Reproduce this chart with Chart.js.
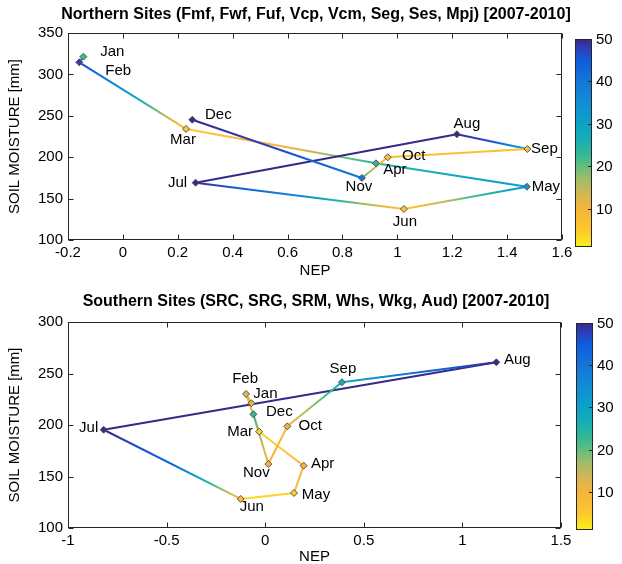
<!DOCTYPE html>
<html lang="en">
<head>
<meta charset="UTF-8">
<title>Soil moisture vs NEP</title>
<script src="https://cdn.jsdelivr.net/npm/chart.js@4.4.0/dist/chart.umd.min.js"></script>
<style>
  html, body { margin: 0; padding: 0; background: #fff; }
  #wrap { position: relative; width: 622px; height: 564px; }
  .panel { position: absolute; left: 0; width: 622px; }
</style>
</head>
<body>
<div id="wrap">
  <div class="panel" style="top:0"><canvas id="north" width="622" height="290"></canvas></div>
  <div class="panel" style="top:282px"><canvas id="south" width="622" height="282"></canvas></div>
</div>
<script>
// ---- data ----
const months = ['Jan', 'Feb', 'Mar', 'Apr', 'May', 'Jun', 'Jul', 'Aug', 'Sep', 'Oct', 'Nov', 'Dec'];

const northNEP = [-0.144, -0.159, 0.230, 0.922, 1.472, 1.024, 0.265, 1.217, 1.474, 0.965, 0.871, 0.253];
const northSM = [321.4, 314.6, 234.1, 192.6, 164.4, 137.4, 169.2, 227.7, 209.9, 199.9, 174.9, 245.3];
// colour value (colorbar units) at start / middle / end of each month-to-month segment
const northSegStart = [22, 48, 5, 24, 32, 5, 50, 50, 7, 7, 40];
const northSegMid = [32, 30, 10, 28, 20, 36, 50, 46, 7, 14, 47];
const northSegEnd = [42, 6, 24, 33, 5, 50, 50, 30, 7, 22, 50];
const northXTicks = [-0.2, 0, 0.2, 0.4, 0.6, 0.8, 1, 1.2, 1.4, 1.6];
const northYTicks = [100, 150, 200, 250, 300, 350];

const southNEP = [-0.070, -0.097, -0.031, 0.195, 0.146, -0.124, -0.819, 1.172, 0.389, 0.112, 0.016, -0.060];
const southSM = [221.1, 230.1, 193.5, 160.5, 134.0, 128.2, 195.4, 260.9, 241.5, 198.7, 162.1, 210.4];
const southSegStart = [12, 12, 4, 10, 4, 8, 50, 50, 27, 10, 10];
const southSegMid = [12, 11, 5, 9, 4, 43, 50, 42, 18, 10, 16];
const southSegEnd = [12, 8, 10, 9, 3, 50, 50, 28, 10, 10, 23];
const southXTicks = [-1, -0.5, 0, 0.5, 1, 1.5];
const southYTicks = [100, 150, 200, 250, 300];

const cbTicks = [10, 20, 30, 40, 50];
const cbMin = 1, cbMax = 50;

// ---- label placement (pixel offsets from each marker) ----
const northLabelOffset = [[29, -5], [39, 9], [-3, 11], [19, 7], [19, 0], [1, 13], [-18, 0], [10, -10], [17, 0], [26, -1], [-3, 9], [26, -5]];
const southLabelOffset = [[14, -9], [-1, -15], [-19, 0], [19, -2], [22, 2], [11, 8], [-15, -2], [21, -2], [1, -13], [23, 0], [-12, 9], [26, -2]];

// ---- style ----
const FONT = '"Liberation Sans", Arial, Helvetica, sans-serif';
const AXIS = '#262626';
// flipped parula-like map: value -> rgb
const cmapStops = [
  [1, [248, 240, 26]], [5, [252, 200, 46]], [10, [247, 180, 58]], [14, [205, 183, 88]],
  [17, [160, 188, 104]], [20, [100, 189, 125]], [23, [50, 184, 150]], [27, [20, 172, 185]],
  [30, [11, 162, 200]], [35, [18, 140, 212]], [40, [20, 118, 216]], [45, [15, 92, 221]],
  [48, [50, 60, 180]], [50, [53, 42, 135]]
];

function cmap(v) {
  v = Math.max(cbMin, Math.min(cbMax, v));
  for (let i = 1; i < cmapStops.length; i++) {
    const [v1, c1] = cmapStops[i];
    if (v <= v1) {
      const [v0, c0] = cmapStops[i - 1];
      const t = (v - v0) / (v1 - v0);
      const c = c0.map((a, k) => Math.round(a + (c1[k] - a) * t));
      return `rgb(${c[0]},${c[1]},${c[2]})`;
    }
  }
  const c = cmapStops[cmapStops.length - 1][1];
  return `rgb(${c[0]},${c[1]},${c[2]})`;
}

function segGradient(ctx, s, m, e) {
  const {p0, p1} = ctx;
  const g = ctx.chart.ctx.createLinearGradient(p0.x, p0.y, p1.x, p1.y);
  for (let i = 0; i <= 10; i++) {
    const t = i / 10;
    const v = t < 0.5 ? s + (m - s) * t * 2 : m + (e - m) * (t - 0.5) * 2;
    g.addColorStop(t, cmap(v));
  }
  return g;
}

const matlabLook = {
  id: 'matlabLook',
  beforeDatasetsDraw(chart, args, o) {
    const {ctx, chartArea: a, scales: {x, y}} = chart;
    ctx.save();
    // title
    ctx.font = 'bold 16px ' + FONT;
    ctx.fillStyle = '#000';
    ctx.textAlign = 'center';
    ctx.textBaseline = 'middle';
    ctx.fillText(o.title, 316, o.titleY);
    // box and inward ticks
    ctx.strokeStyle = AXIS;
    ctx.lineWidth = 1;
    const L = a.left + 0.5, R = a.right - 0.5, T = a.top + 0.5, B = a.bottom - 0.5;
    ctx.strokeRect(L, T, R - L, B - T);
    ctx.beginPath();
    o.xTicks.forEach(v => {
      const px = Math.round(x.getPixelForValue(v)) + 0.5;
      ctx.moveTo(px, B); ctx.lineTo(px, B - 5);
      ctx.moveTo(px, T); ctx.lineTo(px, T + 5);
    });
    o.yTicks.forEach(v => {
      const py = Math.round(y.getPixelForValue(v)) + 0.5;
      ctx.moveTo(L, py); ctx.lineTo(L + 5, py);
      ctx.moveTo(R, py); ctx.lineTo(R - 5, py);
    });
    ctx.stroke();
    ctx.restore();
  },
  afterDatasetsDraw(chart, args, o) {
    const {ctx, chartArea: a} = chart;
    const pts = chart.getDatasetMeta(0).data;
    ctx.save();
    // month labels
    ctx.font = '15px ' + FONT;
    ctx.fillStyle = '#000';
    ctx.textAlign = 'center';
    ctx.textBaseline = 'middle';
    pts.forEach((p, i) => {
      const [dx, dy] = o.labelOffset[i];
      ctx.fillText(o.labels[i], p.x + dx, p.y + dy);
    });
    // colorbar
    const x0 = a.right + o.cb.left, x1 = a.right + o.cb.right;
    const y0 = a.top + o.cb.top, y1 = a.bottom + o.cb.bottom;
    const g = ctx.createLinearGradient(0, y1, 0, y0);
    for (let i = 0; i <= 49; i++) {
      g.addColorStop(i / 49, cmap(cbMin + (cbMax - cbMin) * i / 49));
    }
    ctx.fillStyle = g;
    ctx.fillRect(x0, y0, x1 - x0, y1 - y0);
    ctx.strokeStyle = AXIS;
    ctx.lineWidth = 1;
    ctx.strokeRect(x0 + 0.5, y0 + 0.5, x1 - x0 - 1, y1 - y0 - 1);
    ctx.fillStyle = '#000';
    ctx.textAlign = 'left';
    ctx.beginPath();
    o.cbTicks.forEach(v => {
      const py = Math.round(y1 - (v - cbMin) / (cbMax - cbMin) * (y1 - y0)) + 0.5;
      ctx.moveTo(x1 - 0.5, py); ctx.lineTo(x1 - 4, py);
      ctx.fillText(String(v), x1 + 4, py);
    });
    ctx.stroke();
    ctx.restore();
  }
};

function makeChart(id, cfg) {
  const H = document.getElementById(id).height;
  const n = cfg.nep.length;
  const fill = cfg.nep.map((_, i) => cmap(i < n - 1 ? cfg.segStart[i] : cfg.segEnd[n - 2]));
  return new Chart(document.getElementById(id), {
    type: 'line',
    data: {
      datasets: [{
        data: cfg.nep.map((v, i) => ({x: v, y: cfg.sm[i]})),
        borderWidth: 2,
        borderColor: cmap(25),
        borderJoinStyle: 'round',
        borderCapStyle: 'round',
        tension: 0,
        pointStyle: 'rectRot',
        pointRadius: 3.5,
        pointBorderWidth: 1,
        pointBorderColor: '#555',
        pointBackgroundColor: fill,
        segment: {
          borderColor: c => segGradient(c, cfg.segStart[c.p0DataIndex], cfg.segMid[c.p0DataIndex], cfg.segEnd[c.p0DataIndex])
        },
        clip: false
      }]
    },
    options: {
      responsive: false,
      animation: false,
      layout: {padding: {left: 0, right: cfg.padRight, top: cfg.plotTop, bottom: 0}},
      plugins: {
        legend: {display: false},
        tooltip: {enabled: false},
        title: {display: false},
        matlabLook: {
          title: cfg.title, titleY: cfg.titleY,
          xTicks: cfg.xTicks, yTicks: cfg.yTicks,
          labels: months, labelOffset: cfg.labelOffset,
          cbTicks: cbTicks, cb: cfg.cb
        }
      },
      scales: {
        x: {
          type: 'linear',
          min: cfg.xTicks[0], max: cfg.xTicks[cfg.xTicks.length - 1],
          grid: {display: false, drawTicks: false},
          border: {display: false},
          afterBuildTicks: s => { s.ticks = cfg.xTicks.map(v => ({value: v})); },
          afterFit: s => { s.height = H - cfg.plotBottom; },
          ticks: {
            autoSkip: false, maxRotation: 0, padding: 4, color: '#000',
            font: {family: FONT, size: 15},
            callback: v => String(v)
          },
          title: {
            display: true, text: 'NEP', color: '#000',
            font: {family: FONT, size: 15, lineHeight: cfg.xTitleLH},
            padding: {top: 0, bottom: cfg.xTitlePadBottom}
          }
        },
        y: {
          type: 'linear',
          min: cfg.yTicks[0], max: cfg.yTicks[cfg.yTicks.length - 1],
          grid: {display: false, drawTicks: false},
          border: {display: false},
          afterBuildTicks: s => { s.ticks = cfg.yTicks.map(v => ({value: v})); },
          afterFit: s => { s.width = 68; },
          ticks: {
            padding: 5, color: '#000',
            font: {family: FONT, size: 15},
            callback: v => String(v)
          },
          title: {
            display: true, text: 'SOIL MOISTURE [mm]', color: '#000',
            font: {family: FONT, size: 15},
            padding: {top: 6, bottom: 0}
          }
        }
      }
    },
    plugins: [matlabLook]
  });
}

makeChart('north', {
  title: 'Northern Sites (Fmf, Fwf, Fuf, Vcp, Vcm, Seg, Ses, Mpj) [2007-2010]',
  titleY: 15,
  nep: northNEP, sm: northSM,
  segStart: northSegStart, segMid: northSegMid, segEnd: northSegEnd,
  xTicks: northXTicks, yTicks: northYTicks,
  labelOffset: northLabelOffset,
  plotTop: 33,
  plotBottom: 240,
  padRight: 60,
  xTitleLH: 1.2, xTitlePadBottom: 10,
  cb: {left: 13, right: 30, top: 6, bottom: 7}
});

makeChart('south', {
  title: 'Southern Sites (SRC, SRG, SRM, Whs, Wkg, Aud) [2007-2010]',
  titleY: 20,
  nep: southNEP, sm: southSM,
  segStart: southSegStart, segMid: southSegMid, segEnd: southSegEnd,
  xTicks: southXTicks, yTicks: southYTicks,
  labelOffset: southLabelOffset,
  plotTop: 40,
  plotBottom: 246,
  padRight: 61,
  xTitleLH: 1.0, xTitlePadBottom: 0,
  cb: {left: 15, right: 32, top: 1, bottom: 2}
});
</script>
</body>
</html>
